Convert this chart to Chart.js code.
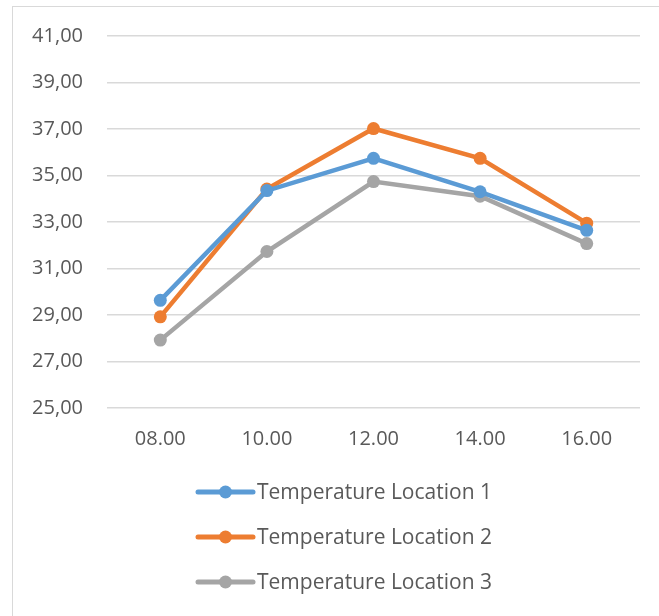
<!DOCTYPE html>
<html>
<head>
<meta charset="utf-8">
<script src="https://cdn.jsdelivr.net/npm/chart.js@4/dist/chart.umd.min.js"></script>
<style>
  html, body { margin: 0; padding: 0; background: #fff; }
  #wrap { position: relative; width: 659px; height: 616px; }
  #frame { position: absolute; left: 12px; top: 6px; right: -2px; bottom: -2px;
           border-left: 1.5px solid #d9d9d9; border-top: 1.5px solid #d9d9d9; }
  canvas { position: absolute; left: 0; top: 0; }
</style>
</head>
<body>
<div id="wrap">
  <div id="frame"></div>
  <canvas id="c" width="659" height="616"></canvas>
</div>
<script>
// Measurement times and temperatures at each location
const times = ['08.00', '10.00', '12.00', '14.00', '16.00'];
const location1 = [29.63, 34.35, 35.74, 34.30, 32.64];
const location2 = [28.92, 34.42, 37.02, 35.74, 32.95];
const location3 = [27.92, 31.73, 34.74, 34.11, 32.07];
const seriesNames = ['Temperature Location 1', 'Temperature Location 2', 'Temperature Location 3'];
const seriesColors = ['#5B9BD5', '#ED7D31', '#A5A5A5'];
const yMin = 25, yMax = 41, yStep = 2;

const FONT = '"Open Sans", Lato, sans-serif';
const TEXT = '#595959';
const FONT_SIZE = 20;
const LEGEND_FONT_SIZE = 21;

function series(i, data) {
  return {
    label: seriesNames[i],
    data: data,
    borderColor: seriesColors[i],
    backgroundColor: seriesColors[i],
    borderWidth: 4.5,
    pointRadius: 6.5,
    pointHoverRadius: 6.5,
    pointBorderWidth: 0,
    tension: 0
  };
}

// Stacked legend below the plot: one row per series
const rowLegend = {
  id: 'rowLegend',
  afterDraw(chart) {
    const ctx = chart.ctx;
    const x0 = 198, x1 = 253, xm = 225.5, tx = 257;
    const rows = [492, 537, 582];
    ctx.save();
    chart.data.datasets.forEach((ds, i) => {
      const y = rows[i];
      ctx.strokeStyle = ds.borderColor;
      ctx.lineWidth = 5;
      ctx.lineCap = 'round';
      ctx.beginPath(); ctx.moveTo(x0, y); ctx.lineTo(x1, y); ctx.stroke();
      ctx.fillStyle = ds.backgroundColor;
      ctx.beginPath(); ctx.arc(xm, y, 6.5, 0, Math.PI * 2); ctx.fill();
      ctx.fillStyle = TEXT;
      ctx.font = LEGEND_FONT_SIZE + 'px ' + FONT;
      ctx.textBaseline = 'middle';
      ctx.textAlign = 'left';
      ctx.fillText(ds.label, tx, y + 1);
    });
    ctx.restore();
  }
};

new Chart(document.getElementById('c'), {
  type: 'line',
  data: {
    labels: times,
    datasets: [series(0, location1), series(1, location2), series(2, location3)]
  },
  options: {
    responsive: false,
    animation: false,
    devicePixelRatio: 1,
    layout: { padding: { left: 12, right: 19, top: 35, bottom: 0 } },
    plugins: { legend: { display: false }, tooltip: { enabled: false } },
    scales: {
      x: {
        offset: true,
        grid: { display: false, drawTicks: false },
        border: { display: false },
        ticks: { color: TEXT, font: { family: FONT, size: FONT_SIZE }, padding: 19, maxRotation: 0 },
        afterFit(scale) { scale.height = 208; }
      },
      y: {
        min: yMin, max: yMax,
        grid: { color: '#d9d9d9', lineWidth: 1.5, drawTicks: false },
        border: { display: false },
        ticks: {
          stepSize: yStep,
          color: TEXT,
          font: { family: FONT, size: FONT_SIZE },
          padding: 24,
          callback: v => v.toFixed(2).replace('.', ',')
        },
        afterFit(scale) { scale.width = 95; }
      }
    }
  },
  plugins: [rowLegend]
});
</script>
</body>
</html>
